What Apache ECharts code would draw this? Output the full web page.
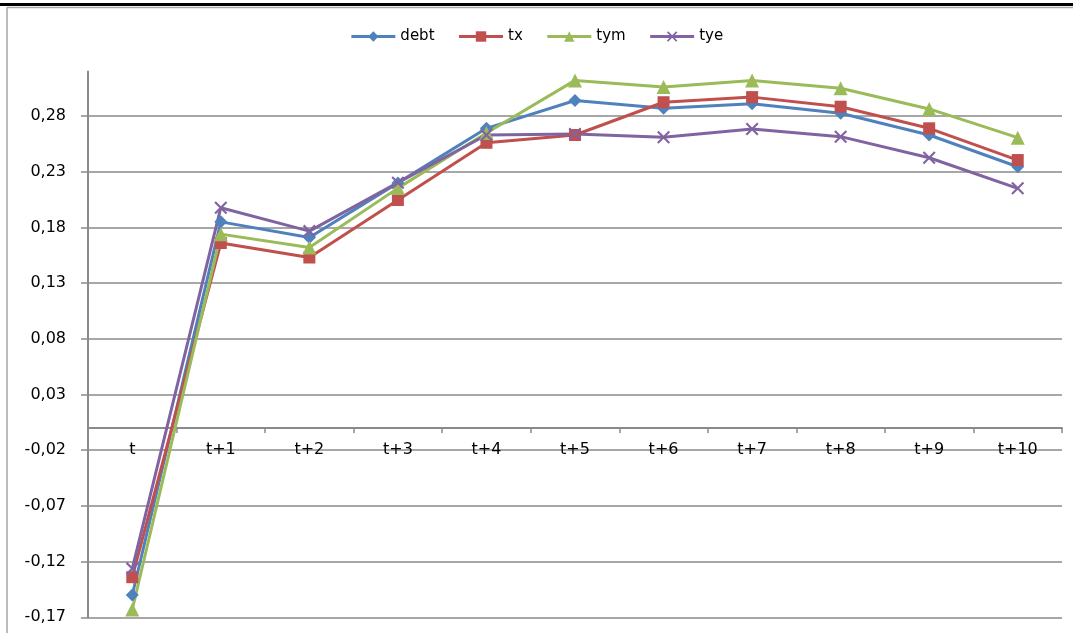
<!DOCTYPE html>
<html>
<head>
<meta charset="utf-8">
<script src="https://cdn.jsdelivr.net/npm/echarts@6/dist/echarts.min.js"></script>
<style>
  html, body { margin: 0; padding: 0; background: #fff; }
  #chart { width: 1073px; height: 633px; }
</style>
</head>
<body>
<div id="chart"></div>
<script>
// Horizons after the shock
const categories = ['t', 't+1', 't+2', 't+3', 't+4', 't+5', 't+6', 't+7', 't+8', 't+9', 't+10'];

// Responses per variable
const debt = [-0.150, 0.185, 0.171, 0.220, 0.269, 0.294, 0.287, 0.291, 0.2825, 0.263, 0.2345];
const tx   = [-0.134, 0.166, 0.153, 0.2046, 0.256, 0.263, 0.2924, 0.297, 0.2884, 0.269, 0.2405];
const tym  = [-0.163, 0.174, 0.162, 0.2153, 0.2648, 0.312, 0.306, 0.312, 0.305, 0.2864, 0.2606];
const tye  = [-0.1263, 0.1977, 0.1767, 0.2202, 0.263, 0.2639, 0.261, 0.2684, 0.2615, 0.2426, 0.2151];

// Value-axis tick positions
const yTicks = [-0.17, -0.12, -0.07, -0.02, 0.03, 0.08, 0.13, 0.18, 0.23, 0.28];
const yMin = -0.17;
const yMax = 0.32;

const FONT = 'DejaVu Sans';
const GRID_GRAY = '#8a8a8a';
const crossPath = 'path://M0,1.4L1.4,0L6,4.6L10.6,0L12,1.4L7.4,6L12,10.6L10.6,12L6,7.4L1.4,12L0,10.6L4.6,6Z';

// Plot area
const W = 1073, H = 633;
const gridTop = 71.5, gridBottom = 15.7;
const plotH = H - gridTop - gridBottom;
// Category axis sits on the zero line: shift it up from the bottom edge
const zeroOffset = -((0 - yMin) / (yMax - yMin)) * plotH;

function makeSeries(name, data, color, symbol, size) {
  return {
    name: name,
    type: 'line',
    data: data,
    symbol: symbol,
    symbolSize: size,
    showSymbol: true,
    lineStyle: { color: color, width: 3 },
    itemStyle: { color: color },
    emphasis: { disabled: true },
    animation: false
  };
}

const chart = echarts.init(document.getElementById('chart'), null, { renderer: 'canvas' });
chart.setOption({
  backgroundColor: '#fff',
  animation: false,
  textStyle: { fontFamily: FONT, color: '#000' },
  graphic: [
    { type: 'rect', shape: { x: 0, y: 3, width: W, height: 3 }, style: { fill: '#000' }, silent: true },
    { type: 'line', shape: { x1: 7, y1: 7.5, x2: W, y2: 7.5 }, style: { stroke: '#a6a6a6', lineWidth: 1.5 }, silent: true },
    { type: 'line', shape: { x1: 7, y1: 7.5, x2: 7, y2: H }, style: { stroke: '#a6a6a6', lineWidth: 1.5 }, silent: true }
  ],
  legend: {
    top: 24,
    left: 'center',
    itemWidth: 44,
    itemHeight: 13,
    itemGap: 23,
    lineStyle: { width: 3 },
    textStyle: { fontFamily: FONT, fontSize: 15, color: '#000' },
    data: ['debt', 'tx', 'tym', 'tye']
  },
  grid: { left: 88, right: 11, top: gridTop, bottom: gridBottom, containLabel: false, outerBoundsMode: 'none' },
  xAxis: {
    type: 'category',
    data: categories,
    boundaryGap: true,
    position: 'bottom',
    offset: zeroOffset,
    axisLine: { show: true, onZero: false, lineStyle: { color: GRID_GRAY, width: 2 } },
    axisTick: { show: true, alignWithLabel: false, length: 5, lineStyle: { color: GRID_GRAY, width: 1.5 } },
    axisLabel: { fontFamily: FONT, fontSize: 16, color: '#000', margin: 14 },
    splitLine: { show: false }
  },
  yAxis: {
    type: 'value',
    min: yMin,
    max: yMax,
    axisLine: { show: true, lineStyle: { color: GRID_GRAY, width: 2 } },
    axisTick: { show: true, length: 7, customValues: yTicks, lineStyle: { color: GRID_GRAY, width: 1.5 } },
    axisLabel: {
      customValues: yTicks,
      fontFamily: FONT,
      fontSize: 16,
      color: '#000',
      margin: 22,
      formatter: function (v) { return v.toFixed(2).replace('.', ','); }
    },
    splitLine: { show: true, lineStyle: { color: GRID_GRAY, width: 1.5 } }
  },
  series: [
    makeSeries('debt', debt, '#4F81BD', 'diamond', 13),
    makeSeries('tx', tx, '#C0504D', 'rect', 12),
    makeSeries('tym', tym, '#9BBB59', 'triangle', 14),
    makeSeries('tye', tye, '#8064A2', crossPath, 13)
  ]
});
</script>
</body>
</html>
